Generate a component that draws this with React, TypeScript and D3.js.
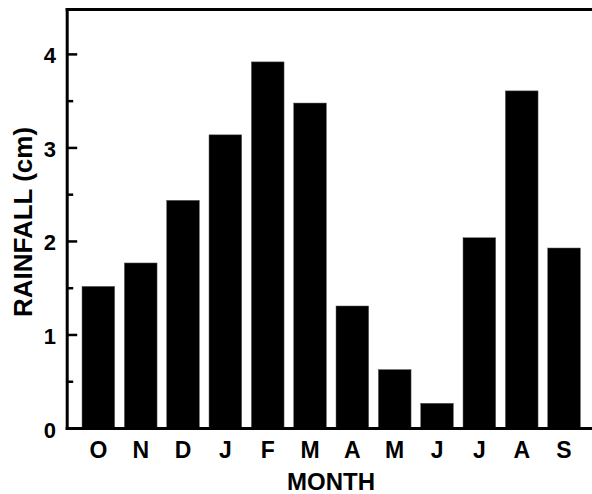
import React from "react";
import * as d3 from "d3";

const months = ["O", "N", "D", "J", "F", "M", "A", "M", "J", "J", "A", "S"];
const rainfall = [1.52, 1.77, 2.44, 3.14, 3.92, 3.48, 1.31, 0.63, 0.27, 2.04, 3.61, 1.93];
const majorTicks = [0, 1, 2, 3, 4];
const minorTicks = [0.5, 1.5, 2.5, 3.5];

const W = 592;
const H = 494;
const axisX = 67.2;
const font = "'Liberation Sans', Arial, Helvetica, sans-serif";

export default function App() {
  const keys = months.map((m, i) => i);
  const x = d3
    .scaleBand<number>()
    .domain(keys)
    .range([77.2, 585.2])
    .paddingInner(0.227)
    .paddingOuter(0.1135);
  const y = d3.scaleLinear().domain([0, 4.48]).range([428.5, 9.5]);

  return (
    <svg
      width={W}
      height={H}
      style={{ position: "absolute", left: 0, top: 0, background: "#fff" }}
      fontFamily={font}
    >
      <rect x={0} y={0} width={W} height={H} fill="#fff" />
      {rainfall.map((v, i) => (
        <rect
          key={i}
          x={x(i)}
          y={y(v)}
          width={x.bandwidth()}
          height={y(0) - y(v)}
          fill="#000"
          stroke="#666"
          strokeWidth={0.5}
        />
      ))}
      {/* frame */}
      <line x1={axisX} x2={axisX} y1={y(4.48) - 1.5} y2={y(0) + 1.5} stroke="#000" strokeWidth={3} />
      <line x1={axisX - 1.5} x2={W} y1={y(4.48)} y2={y(4.48)} stroke="#000" strokeWidth={3} />
      <line x1={axisX - 1.5} x2={W} y1={y(0)} y2={y(0)} stroke="#000" strokeWidth={3} />
      {/* ticks */}
      {majorTicks.filter((t) => t > 0).map((t) => (
        <line key={"M" + t} x1={axisX} x2={axisX + 10} y1={y(t)} y2={y(t)} stroke="#000" strokeWidth={2.5} />
      ))}
      {minorTicks.map((t) => (
        <line key={"m" + t} x1={axisX} x2={axisX + 6} y1={y(t)} y2={y(t)} stroke="#000" strokeWidth={2.5} />
      ))}
      {majorTicks.map((t) => (
        <text
          key={"L" + t}
          x={56}
          y={y(t) + 9}
          textAnchor="end"
          fontSize={22}
          fontWeight="bold"
        >
          {t}
        </text>
      ))}
      {months.map((m, i) => (
        <text
          key={"X" + i}
          x={(x(i) as number) + x.bandwidth() / 2}
          y={458}
          textAnchor="middle"
          fontSize={23}
          fontWeight="bold"
        >
          {m}
        </text>
      ))}
      <text x={331} y={490} textAnchor="middle" fontSize={24} fontWeight="bold">
        MONTH
      </text>
      <text
        transform={`translate(32, 222) rotate(-90)`}
        textAnchor="middle"
        fontSize={26}
        fontWeight="bold"
      >
        RAINFALL (cm)
      </text>
    </svg>
  );
}
